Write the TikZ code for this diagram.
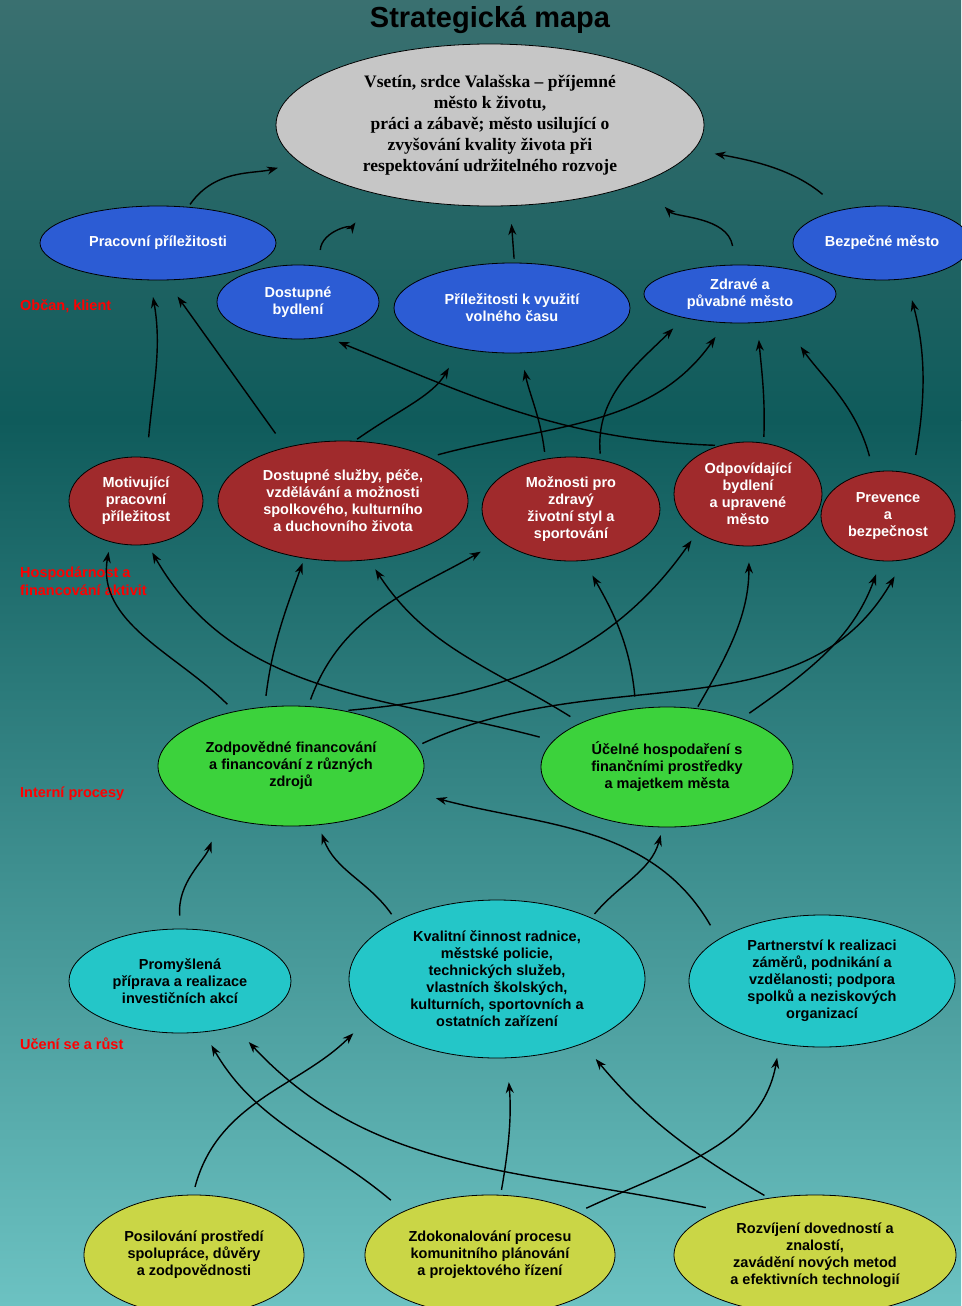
\documentclass[tikz,border=0pt]{standalone}
\usepackage{fontspec}
\setmainfont{Liberation Sans}
\newfontfamily\vizefont{Liberation Serif}
\usetikzlibrary{arrows.meta,shapes.geometric}
\definecolor{pozhore}{HTML}{3A7070}
\definecolor{pozstred}{HTML}{0F5B5B}
\definecolor{pozdole}{HTML}{6CC2C2}
\definecolor{cseda}{HTML}{C6C6C6}
\definecolor{cmodra}{HTML}{2C5CD4}
\definecolor{ccervena}{HTML}{A02A2C}
\definecolor{czelena}{HTML}{3CD23C}
\definecolor{ctyrkys}{HTML}{24C6C8}
\definecolor{czluta}{HTML}{CAD646}

\begin{document}
\begin{tikzpicture}[x=1pt,y=1pt,
  ell/.style={ellipse,draw=black,line width=0.8pt,inner sep=0pt,align=center,font=\fontsize{14.5}{17}\selectfont\bfseries},
  obcan/.style={ell,fill=cmodra,text=white},
  hosp/.style={ell,fill=ccervena,text=white},
  proces/.style={ell,fill=czelena},
  uceni/.style={ell,fill=ctyrkys},
  zaklad/.style={ell,fill=czluta},
  oblast/.style={anchor=west,align=left,inner sep=0pt,text=red,font=\fontsize{14.5}{18}\selectfont\bfseries},
  arr/.style={-{Stealth[length=11pt,width=8pt]},line width=1.4pt,black}
]
\useasboundingbox (0,0) rectangle (961,-1306);
\shade[top color=pozhore,bottom color=pozstred] (0,0) rectangle (961,-420);
\shade[top color=pozstred,bottom color=pozdole] (0,-420) rectangle (961,-1306);

% nadpis a vize
\node[font=\fontsize{29}{32}\selectfont\bfseries] (nadpis) at (490,-20) {Strategická mapa};
\node[ell,fill=cseda,minimum width=428pt,minimum height=162pt,font=\vizefont\fontsize{17.5}{21}\selectfont\bfseries] (vize) at (490,-125)
  {Vsetín, srdce Valašska – příjemné\\město k životu,\\práci a zábavě; město usilující o\\zvyšování kvality života při\\respektování udržitelného rozvoje};

% Občan, klient
\node[obcan,minimum width=236pt,minimum height=74pt] (prac) at (158,-243) {Pracovní příležitosti};
\node[obcan,minimum width=162pt,minimum height=74pt] (bydl) at (298,-302) {Dostupné\\bydlení};
\node[obcan,minimum width=236pt,minimum height=90pt] (volno) at (512,-308) {Příležitosti k využití\\volného času};
\node[obcan,minimum width=192pt,minimum height=58pt] (zdrav) at (740,-294) {Zdravé a\\půvabné město};
\node[obcan,minimum width=178pt,minimum height=74pt] (bezp) at (882,-243) {Bezpečné město};

% Hospodárnost a financování aktivit
\node[hosp,minimum width=134pt,minimum height=88pt] (motiv) at (136,-501) {Motivující\\pracovní\\příležitost};
\node[hosp,minimum width=250pt,minimum height=120pt] (dostsl) at (343,-501) {Dostupné služby, péče,\\vzdělávání a možnosti\\spolkového, kulturního\\a duchovního života};
\node[hosp,minimum width=178pt,minimum height=104pt] (mozn) at (571,-509) {Možnosti pro\\zdravý\\životní styl a\\sportování};
\node[hosp,minimum width=148pt,minimum height=104pt] (odpov) at (748,-494) {Odpovídající\\bydlení\\a upravené\\město};
\node[hosp,minimum width=134pt,minimum height=90pt] (prev) at (888,-516) {Prevence\\a\\bezpečnost};

% Interní procesy
\node[proces,minimum width=266pt,minimum height=120pt] (zodp) at (291,-766) {Zodpovědné financování\\a financování z různých\\zdrojů};
\node[proces,minimum width=252pt,minimum height=120pt] (ucel) at (667,-767) {Účelné hospodaření s\\finančními prostředky\\a majetkem města};

% Učení se a růst
\node[uceni,minimum width=222pt,minimum height=104pt] (promysl) at (180,-981) {Promyšlená\\příprava a realizace\\investičních akcí};
\node[uceni,minimum width=296pt,minimum height=158pt] (kval) at (497,-979) {Kvalitní činnost radnice,\\městské policie,\\technických služeb,\\vlastních školských,\\kulturních, sportovních a\\ostatních zařízení};
\node[uceni,minimum width=266pt,minimum height=132pt] (partn) at (822,-981) {Partnerství k realizaci\\záměrů, podnikání a\\vzdělanosti; podpora\\spolků a neziskových\\organizací};

\node[zaklad,minimum width=220pt,minimum height=120pt] (posil) at (194,-1255) {Posilování prostředí\\spolupráce, důvěry\\a zodpovědnosti};
\node[zaklad,minimum width=250pt,minimum height=120pt] (zdok) at (490,-1255) {Zdokonalování procesu\\komunitního plánování\\a projektového řízení};
\node[zaklad,minimum width=282pt,minimum height=120pt] (rozv) at (815,-1255) {Rozvíjení dovedností a\\znalostí,\\zavádění nových metod\\a efektivních technologií};

% popisky oblastí
\node[oblast] (lobcan) at (20,-306) {Občan, klient};
\node[oblast] (lhosp) at (20,-581) {Hospodárnost a\\financování aktivit};
\node[oblast] (lproc) at (20,-794) {Interní procesy};
\node[oblast] (luceni) at (20,-1044) {Učení se a růst};

% vazby do vize
\draw[arr,shorten <=3pt,shorten >=22pt] (prac.50) to[out=55,in=195] (vize.191);
\draw[arr,shorten <=16pt,shorten >=35pt] (bydl.60) to[out=85,in=235] (vize.211);
\draw[arr,shorten <=4pt,shorten >=18pt] (volno.87) -- (vize.284);
\draw[arr,shorten <=19pt,shorten >=34pt] (zdrav.98) to[out=100,in=-45] (vize.339);
\draw[arr,shorten <=24pt,shorten >=21pt] (bezp.141) to[out=140,in=-10] (vize.353);

% hospodárnost -> občan
\draw[arr,shorten <=20pt,shorten >=17pt] (motiv.76) to[out=85,in=-80] (prac.258);
\draw[arr,shorten <=17pt,shorten >=20pt] (dostsl.137) -- (prac.282);
\draw[arr,shorten <=3pt,shorten >=22pt] (dostsl.79) to[out=35,in=240] (volno.218);
\draw[arr,shorten <=9pt,shorten >=17pt] (dostsl.27) to[out=15,in=235] (zdrav.243);
\draw[arr,shorten <=7pt,shorten >=17pt] (mozn.117) to[out=97,in=-78] (volno.281);
\draw[arr,shorten <=6pt,shorten >=15pt] (mozn.59) to[out=95,in=225] (zdrav.203);
\draw[arr,shorten <=6pt,shorten >=17pt] (odpov.73) to[out=88,in=-85] (zdrav.301);
\draw[arr,shorten <=5pt,shorten >=13pt] (odpov.120) to[out=178,in=-22] (bydl.309);
\draw[arr,shorten <=16pt,shorten >=32pt] (prev.108) to[out=105,in=-55] (zdrav.328);
\draw[arr,shorten <=19pt,shorten >=22pt] (prev.60) to[out=80,in=-75] (bezp.304);

% procesy -> hospodárnost
\draw[arr,shorten <=10pt,shorten >=10pt] (zodp.136) to[out=135,in=-100] (motiv.238);
\draw[arr,shorten <=14pt,shorten >=9pt] (ucel.167) to[out=165,in=-60] (motiv.285);
\draw[arr,shorten <=11pt,shorten >=5pt] (zodp.114) to[out=83,in=-110] (dostsl.236);
\draw[arr,shorten <=7pt,shorten >=22pt] (zodp.74) to[out=70,in=210] (mozn.204);
\draw[arr,shorten <=12pt,shorten >=11pt] (ucel.153) to[out=148,in=-57] (dostsl.294);
\draw[arr,shorten <=12pt,shorten >=17pt] (ucel.118) to[out=95,in=-60] (mozn.284);
\draw[arr,shorten <=2pt,shorten >=16pt] (ucel.63) to[out=60,in=-90] (odpov.271);
\draw[arr,shorten <=9pt,shorten >=14pt] (ucel.33) to[out=35,in=-110] (prev.261);
\draw[arr,shorten <=4pt,shorten >=10pt] (zodp.46) to[out=5,in=235] (odpov.217);
\draw[arr,shorten <=6pt,shorten >=19pt] (zodp.9) to[out=25,in=240] (prev.290);

% učení -> procesy
\draw[arr,shorten <=13pt,shorten >=26pt] (promysl.89) to[out=95,in=-110] (zodp.216);
\draw[arr,shorten <=8pt,shorten >=9pt] (kval.150) to[out=125,in=-70] (zodp.295);
\draw[arr,shorten <=5pt,shorten >=8pt] (kval.33) to[out=50,in=-105] (ucel.266);
\draw[arr,shorten <=16pt,shorten >=25pt] (partn.158) to[out=120,in=-15] (zodp.348);

% základ -> učení
\draw[arr,shorten <=8pt,shorten >=21pt] (posil.91) to[out=75,in=225] (kval.197);
\draw[arr,shorten <=17pt,shorten >=15pt] (zdok.153) to[out=140,in=-60] (promysl.295);
\draw[arr,shorten <=5pt,shorten >=24pt] (zdok.80) to[out=80,in=-85] (kval.277);
\draw[arr,shorten <=9pt,shorten >=14pt] (zdok.26) to[out=25,in=-100] (partn.236);
\draw[arr,shorten <=14pt,shorten >=21pt] (rozv.155) to[out=168,in=-47] (promysl.320);
\draw[arr,shorten <=5pt,shorten >=20pt] (rozv.129) to[out=150,in=-50] (kval.323);
\end{tikzpicture}
\end{document}
